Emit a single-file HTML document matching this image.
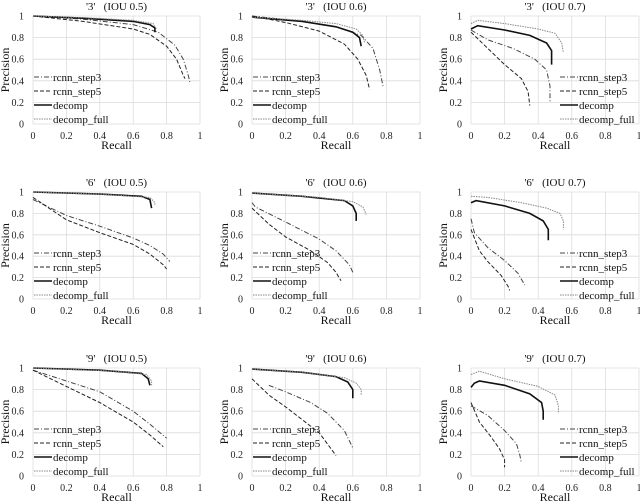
<!DOCTYPE html>
<html><head><meta charset="utf-8"><style>
html,body{margin:0;padding:0;background:#fff;}
svg{display:block;}
svg text{font-family:"Liberation Serif","DejaVu Serif",serif;}
</style></head><body>
<svg id="chart" width="640" height="504" viewBox="0 0 640 504" font-family="Liberation Serif, serif"></svg>
<script>
const digitLabels = ["3","6","9"];
const iouLabels = ["0.5","0.6","0.7"];
const tickValues = [0,0.2,0.4,0.6,0.8,1];
const tickLabels = ["0","0.2","0.4","0.6","0.8","1"];
const seriesNames = ["rcnn_step3","rcnn_step5","decomp","decomp_full"];

// recall / precision per panel per series
const r3_05 = [[0,0.3,0.6,0.75,0.85,0.9,0.93,0.94],[0,0.3,0.6,0.7,0.8,0.86,0.9,0.91],[0,0.3,0.6,0.7,0.73,0.73],[0,0.3,0.6,0.72,0.74]];
const p3_05 = [[1,0.97,0.92,0.85,0.73,0.6,0.45,0.38],[1,0.95,0.88,0.83,0.72,0.6,0.45,0.42],[1,0.98,0.95,0.92,0.89,0.85],[1,0.985,0.96,0.93,0.88]];
const r3_06 = [[0,0.3,0.5,0.65,0.72,0.76,0.78],[0,0.2,0.4,0.55,0.63,0.68,0.7],[0,0.3,0.5,0.6,0.64,0.65],[0,0.3,0.5,0.62,0.66,0.67]];
const p3_06 = [[1,0.95,0.9,0.82,0.7,0.5,0.35],[1,0.94,0.86,0.74,0.6,0.45,0.32],[0.99,0.95,0.9,0.85,0.8,0.72],[0.99,0.96,0.93,0.88,0.82,0.75]];
const r3_07 = [[0,0.1,0.25,0.38,0.45,0.47,0.47],[0,0.1,0.2,0.3,0.34,0.35],[0,0.04,0.2,0.35,0.45,0.48,0.48],[0,0.04,0.2,0.4,0.5,0.54,0.55]];
const p3_07 = [[0.87,0.78,0.7,0.6,0.5,0.35,0.2],[0.85,0.7,0.55,0.42,0.3,0.17],[0.88,0.91,0.87,0.82,0.75,0.68,0.55],[0.93,0.96,0.93,0.88,0.84,0.75,0.66]];
const r6_05 = [[0,0.2,0.4,0.6,0.7,0.78,0.82],[0,0.2,0.4,0.6,0.7,0.78,0.8],[0,0.4,0.65,0.7,0.71],[0,0.4,0.7,0.73,0.73]];
const p6_05 = [[0.93,0.78,0.68,0.57,0.5,0.42,0.35],[0.95,0.74,0.62,0.51,0.42,0.32,0.28],[1,0.98,0.96,0.93,0.85],[1,0.98,0.95,0.9,0.88]];
const r6_06 = [[0,0.02,0.2,0.4,0.5,0.58,0.6],[0,0.1,0.2,0.35,0.45,0.5,0.53],[0,0.3,0.55,0.6,0.62,0.62],[0,0.4,0.6,0.66,0.68]];
const p6_06 = [[0.9,0.86,0.72,0.56,0.45,0.32,0.25],[0.85,0.7,0.58,0.45,0.34,0.25,0.17],[0.99,0.96,0.92,0.87,0.8,0.73],[0.99,0.95,0.91,0.86,0.79]];
const r6_07 = [[0,0.02,0.1,0.2,0.28,0.32],[0,0.05,0.1,0.18,0.22,0.23],[0,0.03,0.2,0.35,0.43,0.46,0.46],[0,0.1,0.3,0.45,0.53,0.55,0.55]];
const p6_07 = [[0.75,0.62,0.48,0.36,0.24,0.13],[0.65,0.45,0.35,0.22,0.12,0.08],[0.9,0.92,0.87,0.8,0.73,0.65,0.55],[0.96,0.95,0.9,0.85,0.8,0.73,0.65]];
const r9_05 = [[0,0.2,0.4,0.6,0.7,0.8],[0,0.2,0.4,0.6,0.7,0.78],[0,0.4,0.65,0.69,0.7],[0,0.5,0.68,0.71,0.71]];
const p9_05 = [[0.98,0.88,0.78,0.6,0.48,0.35],[0.98,0.83,0.68,0.5,0.38,0.27],[1,0.98,0.95,0.9,0.84],[1,0.97,0.94,0.88,0.84]];
const r9_06 = [[0.1,0.2,0.35,0.45,0.55,0.6],[0,0.1,0.2,0.3,0.4,0.5],[0,0.3,0.5,0.57,0.6,0.6],[0,0.3,0.55,0.62,0.65,0.65]];
const p9_06 = [[0.84,0.78,0.68,0.58,0.42,0.26],[0.9,0.75,0.64,0.52,0.4,0.19],[0.99,0.96,0.92,0.87,0.8,0.72],[0.99,0.96,0.91,0.86,0.8,0.75]];
const r9_07 = [[0,0.1,0.2,0.27,0.29,0.3],[0,0.05,0.12,0.17,0.2,0.2],[0,0.02,0.05,0.2,0.35,0.42,0.43,0.43],[0,0.05,0.2,0.4,0.5,0.52,0.52]];
const p9_07 = [[0.65,0.56,0.42,0.3,0.2,0.12],[0.68,0.5,0.36,0.25,0.15,0.08],[0.82,0.86,0.88,0.84,0.76,0.68,0.6,0.52],[0.94,0.97,0.9,0.83,0.75,0.65,0.58]];

const recallData = [[r3_05,r3_06,r3_07],[r6_05,r6_06,r6_07],[r9_05,r9_06,r9_07]];
const precData = [[p3_05,p3_06,p3_07],[p6_05,p6_06,p6_07],[p9_05,p9_06,p9_07]];

const colX0 = [33,252,471], colX1 = [200,420,639];
const rowY1 = [16,192,368], rowY0 = [124,299,476];
const styles = [
  {c:"#444",w:1,d:"5,2,1,2"},
  {c:"#222",w:1,d:"4,2"},
  {c:"#111",w:1.6,d:""},
  {c:"#888",w:1,d:"1.5,1"}
];
const FF='"Liberation Serif", "DejaVu Serif", serif';
const NS="http://www.w3.org/2000/svg";
const svg=document.getElementById("chart");
function mk(tag,attrs,parent,text){const e=document.createElementNS(NS,tag);for(const k in attrs)e.setAttribute(k,attrs[k]);if(tag==="text")e.setAttribute("font-family",FF);if(text!==undefined)e.textContent=text;(parent||svg).appendChild(e);return e;}

for(let r=0;r<3;r++)for(let c=0;c<3;c++){
  const x0=colX0[c],x1=colX1[c],yb=rowY0[r],yt=rowY1[r];
  const sx=v=>x0+v*(x1-x0), sy=v=>yb-v*(yb-yt);
  const g=mk("g",{});
  
  
  tickValues.forEach((t,i)=>{
    mk("line",{x1:x0,x2:x1,y1:sy(t),y2:sy(t),stroke:"#dcdcdc","stroke-width":0.8},g);
    mk("line",{x1:sx(t),x2:sx(t),y1:yt,y2:yb,stroke:"#dcdcdc","stroke-width":0.8},g);
    const yl=mk("text",{x:x0-9,y:sy(t)+3.5,"font-size":10,"text-anchor":"end",fill:"#222"},g,tickLabels[i]);
    
    
    const xl=mk("text",{x:sx(t),y:yb+15,"font-size":10,"text-anchor":"middle",fill:"#222"},g,tickLabels[i]);
    
    
  });
  const tt=mk("text",{x:(x0+x1)/2,y:yt-6,"font-size":11,"text-anchor":"middle",fill:"#111"},g,"'"+digitLabels[r]+"'\u00a0\u00a0\u00a0(IOU "+iouLabels[c]+")");
  
  
  const xt=mk("text",{x:(x0+x1)/2,y:yb+25,"font-size":12,"text-anchor":"middle",fill:"#111"},g,"Recall");
  
  
  const yy=(yt+yb)/2, yx=x0-24;
  const ytl=mk("text",{x:yx,y:yy,"font-size":12,"text-anchor":"middle",fill:"#111",transform:"rotate(-90 "+yx+" "+yy+")"},g,"Precision");
  
  
  for(let s=0;s<4;s++){
    const R=recallData[r][c][s],P=precData[r][c][s];
    const pts=R.map((v,i)=>sx(v).toFixed(1)+","+sy(P[i]).toFixed(1)).join(" ");
    const pl=mk("polyline",{points:pts,fill:"none",stroke:styles[s].c,"stroke-width":styles[s].w,"stroke-dasharray":styles[s].d},g);
    
    
  }
  const lx=c===2?x0+89:x0+1;
  for(let s=0;s<4;s++){
    const ly=yt+61+s*14;
    const le=mk("g",{},g);
    
    
    mk("line",{x1:lx,x2:lx+18,y1:ly,y2:ly,stroke:styles[s].c,"stroke-width":styles[s].w,"stroke-dasharray":styles[s].d},le);
    mk("text",{x:lx+19,y:ly+4,"font-size":11,fill:"#111"},le,seriesNames[s]);
  }
}
</script>
</body></html>
